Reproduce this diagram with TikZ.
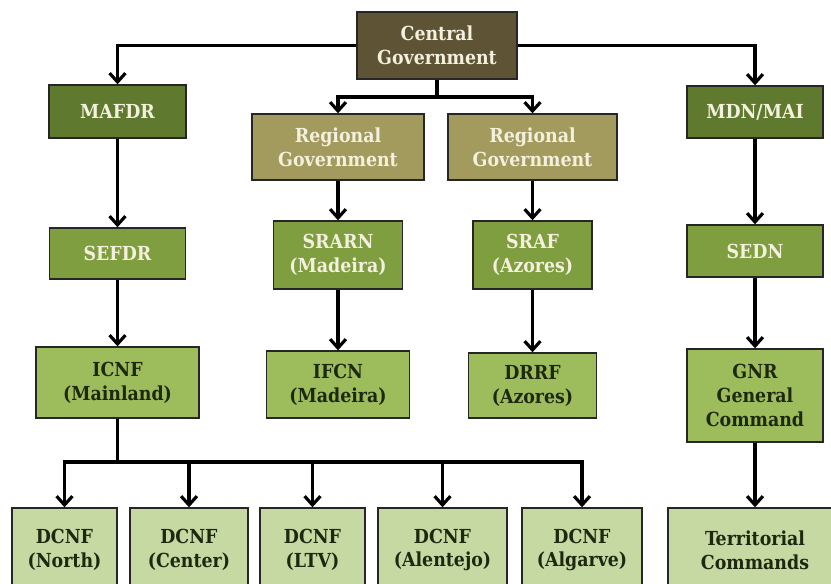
\documentclass[tikz,border=0pt]{standalone}
\usepackage{fontspec}
\setmainfont{DejaVu Serif Condensed}
\usepackage{tikz}
\usetikzlibrary{arrows.meta}

\definecolor{cgbrown}{HTML}{5E5334}
\definecolor{rgtan}{HTML}{A39A5E}
\definecolor{mingreen}{HTML}{5F7A2F}
\definecolor{secgreen}{HTML}{7E9E3F}
\definecolor{instgreen}{HTML}{9DBC5B}
\definecolor{reggreen}{HTML}{C6D9A2}
\definecolor{lighttext}{HTML}{F4F0DE}
\definecolor{darktext}{HTML}{1E280F}

\begin{document}
\begin{tikzpicture}
  [x=0.02cm,y=-0.02cm,
   every node/.style={rectangle,draw=black!85,line width=0.8pt,align=center,
     font=\fontsize{11}{13.6}\selectfont\bfseries,inner sep=2pt},
   lightbox/.style={text=lighttext},
   darkbox/.style={text=darktext},
   arr/.style={line width=1.8pt,-{Straight Barb[length=5pt,width=9pt]}},
   line/.style={line width=1.8pt}]
  \useasboundingbox[fill=white] (0,0) rectangle (831,583);

  % top levels
  \node [lightbox,fill=cgbrown,minimum width=160*0.02cm,minimum height=67*0.02cm] (cg) at (437,45.5) {Central\\Government};
  \node [lightbox,fill=mingreen,minimum width=137*0.02cm,minimum height=53*0.02cm] (mafdr) at (117.5,111.5) {MAFDR};
  \node [lightbox,fill=mingreen,minimum width=136*0.02cm,minimum height=52*0.02cm] (mdn) at (755,112) {MDN/MAI};
  \node [lightbox,fill=rgtan,minimum width=172*0.02cm,minimum height=66*0.02cm] (rg1) at (338,147) {Regional\\Government};
  \node [lightbox,fill=rgtan,minimum width=169*0.02cm,minimum height=66*0.02cm] (rg2) at (532.5,147) {Regional\\Government};

  % secretaries
  \node [lightbox,fill=secgreen,minimum width=136*0.02cm,minimum height=51*0.02cm] (sefdr) at (117.5,253.5) {SEFDR};
  \node [lightbox,fill=secgreen,minimum width=129*0.02cm,minimum height=68*0.02cm] (srarn) at (338,255) {SRARN\\(Madeira)};
  \node [lightbox,fill=secgreen,minimum width=119*0.02cm,minimum height=68*0.02cm] (sraf) at (532.5,255) {SRAF\\(Azores)};
  \node [lightbox,fill=secgreen,minimum width=136*0.02cm,minimum height=52*0.02cm] (sedn) at (755,251) {SEDN};

  % institutes
  \node [darkbox,fill=instgreen,minimum width=163*0.02cm,minimum height=71*0.02cm] (icnf) at (117.5,382.5) {ICNF\\(Mainland)};
  \node [darkbox,fill=instgreen,minimum width=143*0.02cm,minimum height=67*0.02cm] (ifcn) at (338,384.5) {IFCN\\(Madeira)};
  \node [darkbox,fill=instgreen,minimum width=128*0.02cm,minimum height=65*0.02cm] (drrf) at (532.5,385.5) {DRRF\\(Azores)};
  \node [darkbox,fill=instgreen,minimum width=136*0.02cm,minimum height=93*0.02cm] (gnr) at (755,395.5) {GNR\\General\\Command};

  % regional level
  \node [darkbox,fill=reggreen,minimum width=105*0.02cm,minimum height=84*0.02cm] (north) at (64.5,550) {DCNF\\(North)};
  \node [darkbox,fill=reggreen,minimum width=118*0.02cm,minimum height=84*0.02cm] (center) at (189,550) {DCNF\\(Center)};
  \node [darkbox,fill=reggreen,minimum width=105*0.02cm,minimum height=84*0.02cm] (ltv) at (312.5,550) {DCNF\\(LTV)};
  \node [darkbox,fill=reggreen,minimum width=129*0.02cm,minimum height=84*0.02cm] (alentejo) at (442.5,550) {DCNF\\(Alentejo)};
  \node [darkbox,fill=reggreen,minimum width=120*0.02cm,minimum height=84*0.02cm] (algarve) at (582,550) {DCNF\\(Algarve)};
  \node [darkbox,fill=reggreen,minimum width=174*0.02cm,minimum height=84*0.02cm] (terr) at (755,550) {Territorial\\Commands};

  \coordinate (cgbus) at (437,97);
  \coordinate (icnfbus) at (117.5,462);

  \draw [arr] (cg.west) -| (mafdr.north);
  \draw [arr] (cg.east) -| (mdn.north);
  \draw [line] (cg.south) -- (cgbus);
  \foreach \to in {rg1,rg2}
    \draw [arr] (cgbus) -| (\to.north);

  \foreach \from/\to in {mafdr/sefdr,sefdr/icnf,rg1/srarn,srarn/ifcn,rg2/sraf,sraf/drrf,mdn/sedn,sedn/gnr,gnr/terr}
    \draw [arr] (\from) -- (\to);

  \draw [line] (icnf.south) -- (icnfbus);
  \foreach \to in {north,center,ltv,alentejo,algarve}
    \draw [arr] (icnfbus) -| (\to.north);

\end{tikzpicture}
\end{document}
